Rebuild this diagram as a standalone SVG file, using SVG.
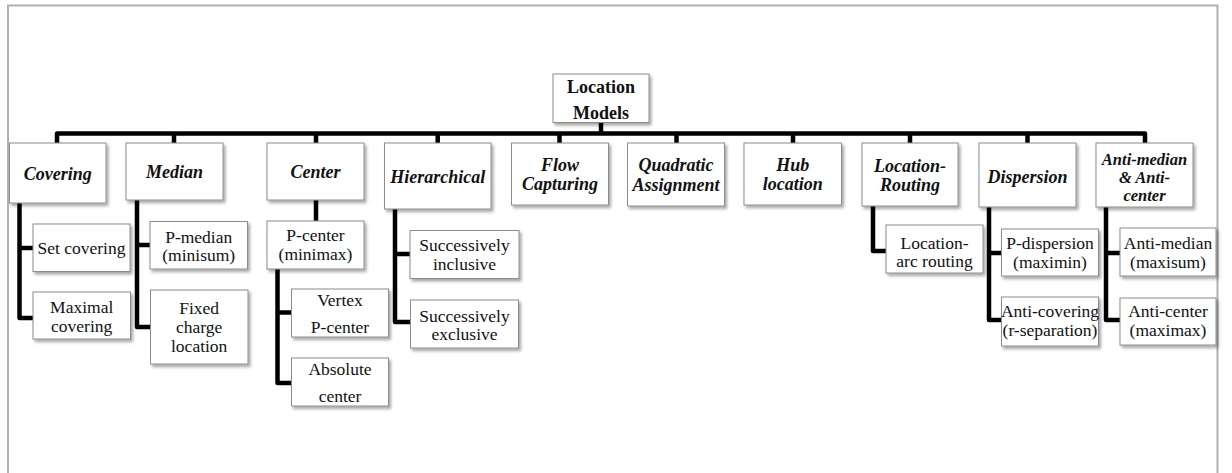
<svg xmlns="http://www.w3.org/2000/svg" width="1232" height="473" viewBox="0 0 1232 473" font-family="Liberation Serif, Times New Roman, serif">
  <defs>
    <filter id="shadow" x="-10%" y="-10%" width="130%" height="140%">
      <feDropShadow dx="2" dy="2.5" stdDeviation="1.5" flood-color="#000" flood-opacity="0.35"/>
    </filter>
  </defs>
  <style>
    .frame { fill: none; stroke: #b0b0b0; stroke-width: 2; }
    .box { fill: #ffffff; stroke: #8c8c8c; stroke-width: 1; filter: url(#shadow); }
    .wire { fill: none; stroke: #000; stroke-width: 4.5; stroke-linejoin: round; stroke-linecap: butt; }
    .root, .head, .head2, .leaf { font-family: "Liberation Serif", "Times New Roman", serif; fill: #111; text-anchor: middle; }
    .root { font-size: 18px; font-weight: bold; }
    .head { font-size: 18px; font-weight: bold; font-style: italic; }
    .head2 { font-size: 16.5px; font-weight: bold; font-style: italic; }
    .leaf { font-size: 17.5px; }
  </style>

  <rect fill="#ffffff" x="0" y="0" width="1232" height="473"/>
  <!-- page frame -->
  <path class="frame" d="M8 480 V5.5 H1217.5 V480"/>

  <!-- connectors -->
  <g id="connectors">
    <path class="wire" d="M601 122 V133.5"/>
    <path class="wire" d="M57 144 V133.5 H1145 V144"/>
    <path class="wire" d="M174 133.5 V144 M316 133.5 V144 M437.7 133.5 V144 M559.5 133.5 V144 M676.5 133.5 V144 M793 133.5 V144 M910 133.5 V144 M1027.5 133.5 V144"/>
    <path class="wire" d="M19.5 203 V318 H34 M19.5 248 H34"/>
    <path class="wire" d="M137 200 V327 H151 M137 245 H151"/>
    <path class="wire" d="M316 200 V222"/>
    <path class="wire" d="M277.5 269 V383 H292 M277.5 312.5 H292"/>
    <path class="wire" d="M395 209 V322 H411 M395 254 H411"/>
    <path class="wire" d="M873 206 V251 H887"/>
    <path class="wire" d="M989 207 V320 H1002 M989 253 H1002"/>
    <path class="wire" d="M1106 207 V320 H1121 M1106 253 H1121"/>
  </g>

  <!-- root -->
  <g id="location-models">
    <rect class="box" x="553" y="74" width="96" height="48.5"/>
    <text class="root" x="601" y="93">Location</text>
    <text class="root" x="601" y="119">Models</text>
  </g>

  <!-- model families -->
  <g id="covering">
    <rect class="box" x="9.5" y="143" width="96.5" height="60"/>
    <text class="head" x="57.7" y="180">Covering</text>
  </g>
  <g id="median">
    <rect class="box" x="126" y="143" width="97" height="57"/>
    <text class="head" x="174.5" y="178">Median</text>
  </g>
  <g id="center">
    <rect class="box" x="267" y="143" width="97" height="57"/>
    <text class="head" x="315.5" y="178">Center</text>
  </g>
  <g id="hierarchical">
    <rect class="box" x="384.5" y="143" width="106.5" height="66"/>
    <text class="head" x="437.7" y="183">Hierarchical</text>
  </g>
  <g id="flow-capturing">
    <rect class="box" x="511.5" y="143" width="97" height="62"/>
    <text class="head" x="560" y="171">Flow</text>
    <text class="head" x="560" y="190">Capturing</text>
  </g>
  <g id="quadratic-assignment">
    <rect class="box" x="627.5" y="143" width="97" height="63"/>
    <text class="head" x="676" y="171">Quadratic</text>
    <text class="head" x="676" y="191">Assignment</text>
  </g>
  <g id="hub-location">
    <rect class="box" x="744" y="143" width="97.5" height="62"/>
    <text class="head" x="792.7" y="171">Hub</text>
    <text class="head" x="792.7" y="190">location</text>
  </g>
  <g id="location-routing">
    <rect class="box" x="862" y="143" width="96" height="63"/>
    <text class="head" x="910" y="172">Location-</text>
    <text class="head" x="910" y="191">Routing</text>
  </g>
  <g id="dispersion">
    <rect class="box" x="979" y="143" width="97" height="64"/>
    <text class="head" x="1027.5" y="183">Dispersion</text>
  </g>
  <g id="anti-median-anti-center">
    <rect class="box" x="1096" y="143" width="97" height="64"/>
    <text class="head2" x="1144.5" y="165">Anti-median</text>
    <text class="head2" x="1144.5" y="183">&amp; Anti-</text>
    <text class="head2" x="1144.5" y="201">center</text>
  </g>

  <!-- specific models -->
  <g id="set-covering">
    <rect class="box" x="33" y="224" width="97" height="47.5"/>
    <text class="leaf" x="81.5" y="254">Set covering</text>
  </g>
  <g id="maximal-covering">
    <rect class="box" x="33" y="292" width="97.5" height="47"/>
    <text class="leaf" x="81.7" y="313">Maximal</text>
    <text class="leaf" x="81.7" y="332">covering</text>
  </g>
  <g id="p-median">
    <rect class="box" x="150" y="221.5" width="97.5" height="47.5"/>
    <text class="leaf" x="198.7" y="242.5">P-median</text>
    <text class="leaf" x="198.7" y="261">(minisum)</text>
  </g>
  <g id="fixed-charge-location">
    <rect class="box" x="150.5" y="290" width="97.5" height="74"/>
    <text class="leaf" x="199.2" y="314">Fixed</text>
    <text class="leaf" x="199.2" y="333">charge</text>
    <text class="leaf" x="199.2" y="352">location</text>
  </g>
  <g id="p-center">
    <rect class="box" x="267" y="221" width="97" height="48"/>
    <text class="leaf" x="315.5" y="241">P-center</text>
    <text class="leaf" x="315.5" y="260">(minimax)</text>
  </g>
  <g id="vertex-p-center">
    <rect class="box" x="291.5" y="289" width="97" height="48"/>
    <text class="leaf" x="340" y="306">Vertex</text>
    <text class="leaf" x="340" y="333">P-center</text>
  </g>
  <g id="absolute-center">
    <rect class="box" x="291.5" y="358" width="97" height="48"/>
    <text class="leaf" x="340" y="375">Absolute</text>
    <text class="leaf" x="340" y="402">center</text>
  </g>
  <g id="successively-inclusive">
    <rect class="box" x="410" y="230.5" width="109" height="48"/>
    <text class="leaf" x="464.5" y="251">Successively</text>
    <text class="leaf" x="464.5" y="270">inclusive</text>
  </g>
  <g id="successively-exclusive">
    <rect class="box" x="410.5" y="300" width="108" height="48"/>
    <text class="leaf" x="464.5" y="321.5">Successively</text>
    <text class="leaf" x="464.5" y="340">exclusive</text>
  </g>
  <g id="location-arc-routing">
    <rect class="box" x="886" y="225" width="97" height="48"/>
    <text class="leaf" x="934.5" y="248.5">Location-</text>
    <text class="leaf" x="934.5" y="267">arc routing</text>
  </g>
  <g id="p-dispersion">
    <rect class="box" x="1001.5" y="229" width="97" height="47"/>
    <text class="leaf" x="1050" y="249">P-dispersion</text>
    <text class="leaf" x="1050" y="268">(maximin)</text>
  </g>
  <g id="anti-covering">
    <rect class="box" x="1001.5" y="297" width="97" height="49"/>
    <text class="leaf" x="1050" y="317">Anti-covering</text>
    <text class="leaf" x="1050" y="335.5">(r-separation)</text>
  </g>
  <g id="anti-median">
    <rect class="box" x="1120" y="228" width="96" height="48"/>
    <text class="leaf" x="1168" y="249">Anti-median</text>
    <text class="leaf" x="1168" y="268">(maxisum)</text>
  </g>
  <g id="anti-center">
    <rect class="box" x="1120" y="298" width="96" height="47"/>
    <text class="leaf" x="1168" y="317">Anti-center</text>
    <text class="leaf" x="1168" y="335.5">(maximax)</text>
  </g>
</svg>
